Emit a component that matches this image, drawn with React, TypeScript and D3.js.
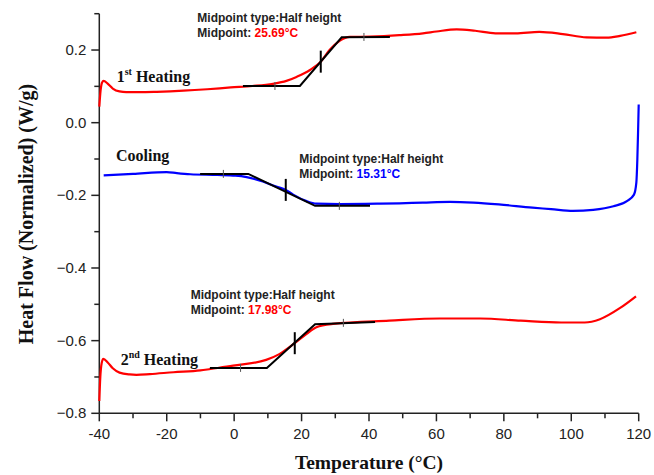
import React from "react";
import * as d3 from "d3";

const WIDTH = 654;
const HEIGHT = 475;

// Axis ticks
const xMajorTicks = [-40, -20, 0, 20, 40, 60, 80, 100, 120];
const xMinorTicks = [-30, -10, 10, 30, 50, 70, 90, 110];
const yMajorTicks = [-0.8, -0.6, -0.4, -0.2, 0.0, 0.2];
const yMinorTicks = [-0.7, -0.5, -0.3, -0.1, 0.1, 0.3];

// DSC curves: [temperature °C, heat flow W/g]
const heating1: [number, number][] = [
  [-40, 0.044], [-39.6, 0.09], [-39.2, 0.11], [-38.7, 0.115], [-37.6, 0.108],
  [-36, 0.094], [-34, 0.086], [-32, 0.084], [-28, 0.084], [-23, 0.085],
  [-15, 0.088], [-8, 0.092], [-1, 0.097], [5.4, 0.101], [11.5, 0.107],
  [15.5, 0.115], [18.5, 0.126], [22.5, 0.145], [25.69, 0.168], [28.3, 0.2],
  [31.4, 0.226], [34.3, 0.236], [40.3, 0.237], [49, 0.241], [56, 0.246],
  [60, 0.251], [66, 0.257], [71.5, 0.253], [77.5, 0.246], [83.5, 0.246],
  [90.5, 0.25], [97.5, 0.244], [104.5, 0.235], [110.5, 0.234], [114.5, 0.239],
  [119.3, 0.249],
];

const cooling: [number, number][] = [
  [-38.7, -0.145], [-30, -0.141], [-20, -0.136], [-17, -0.139], [-13, -0.142],
  [-5, -0.144], [0.4, -0.146], [3.7, -0.15], [8.5, -0.162], [12.5, -0.176],
  [15.31, -0.185], [17.5, -0.198], [21.5, -0.216], [24.4, -0.223], [31.3, -0.224],
  [42.6, -0.223], [49, -0.222], [56, -0.22], [64, -0.218], [71, -0.22],
  [78.5, -0.225], [88.5, -0.234], [94, -0.238], [100.5, -0.243], [106.5, -0.24],
  [112.5, -0.23], [116.5, -0.216], [118.6, -0.198], [119.3, -0.165],
  [119.6, -0.1], [119.8, -0.03], [120, 0.05],
];

const heating2: [number, number][] = [
  [-40, -0.766], [-39.7, -0.7], [-39.3, -0.662], [-38.8, -0.65], [-37.5, -0.66],
  [-36, -0.676], [-34, -0.688], [-31, -0.693], [-29, -0.694], [-25, -0.692],
  [-18, -0.687], [-10, -0.682], [-7, -0.678], [-0.3, -0.669], [9.5, -0.653],
  [13.4, -0.637], [17.98, -0.607], [21.4, -0.582], [24.4, -0.563], [29.3, -0.554],
  [46, -0.545], [61, -0.539], [73, -0.539], [85, -0.545], [97, -0.55],
  [104, -0.55], [108.5, -0.541], [114.5, -0.51], [119.2, -0.478],
];

// Glass-transition construction lines (baseline / tangent / baseline)
const heating1Construction: [number, number][] = [[2.6, 0.101], [19.5, 0.101], [31.9, 0.235], [46.2, 0.236]];
const coolingConstruction: [number, number][] = [[-10.1, -0.141], [4.2, -0.141], [24.0, -0.229], [40.3, -0.229]];
const heating2Construction: [number, number][] = [[-7.2, -0.675], [9.7, -0.675], [24.0, -0.555], [41.8, -0.549]];

// Onset / endset markers on the baselines
const heating1Markers: [number, number][] = [[12.1, 0.101], [38.5, 0.236]];
const coolingMarkers: [number, number][] = [[-3.2, -0.141], [31.2, -0.229]];
const heating2Markers: [number, number][] = [[1.9, -0.675], [32.4, -0.551]];

// Half-height midpoints
const midpoints = [
  { temp: 25.69, flow: 0.168, label: "25.69°C", color: "#ff0000" },
  { temp: 15.31, flow: -0.185, label: "15.31°C", color: "#0000ff" },
  { temp: 17.98, flow: -0.607, label: "17.98°C", color: "#ff0000" },
];

const x = d3.scaleLinear().domain([-40, 120]).range([99.3, 638.7]);
const y = d3.scaleLinear().domain([-0.8, 0.3]).range([413.3, 13.7]);

const curve = d3
  .line<[number, number]>()
  .x((d) => x(d[0]))
  .y((d) => y(d[1]))
  .curve(d3.curveMonotoneX);

const poly = d3
  .line<[number, number]>()
  .x((d) => x(d[0]))
  .y((d) => y(d[1]));

const SANS = "'Liberation Sans', Arial, sans-serif";
const SERIF = "'Liberation Serif', 'Times New Roman', serif";
const AXIS = "#222";

function Annotation({ left, top, value, color }: { left: number; top: number; value: string; color: string }) {
  return (
    <g fontFamily={SANS} fontSize={12} fontWeight="bold" fill="#222">
      <text x={left} y={top}>Midpoint type:Half height</text>
      <text x={left} y={top + 15}>
        Midpoint: <tspan fill={color}>{value}</tspan>
      </text>
    </g>
  );
}

function Construction({ pts, markers, mid }: { pts: [number, number][]; markers: [number, number][]; mid: { temp: number; flow: number } }) {
  return (
    <g>
      <path d={poly(pts) ?? ""} fill="none" stroke="#000" strokeWidth={2} />
      {markers.map(([t, q], i) => (
        <line key={i} x1={x(t)} x2={x(t)} y1={y(q) - 4} y2={y(q) + 4} stroke="#555" strokeWidth={1} />
      ))}
      <line x1={x(mid.temp)} x2={x(mid.temp)} y1={y(mid.flow) - 11} y2={y(mid.flow) + 11} stroke="#000" strokeWidth={2} />
    </g>
  );
}

export default function App() {
  const x0 = x(-40);
  const y0 = y(-0.8);
  return (
    <svg
      width={WIDTH}
      height={HEIGHT}
      viewBox={`0 0 ${WIDTH} ${HEIGHT}`}
      style={{ position: "absolute", left: 0, top: 0, background: "#fff" }}
    >
      {/* axes */}
      <line x1={x0} x2={x0} y1={y(0.3)} y2={y0} stroke={AXIS} strokeWidth={1.5} />
      <line x1={x0} x2={x(120)} y1={y0} y2={y0} stroke={AXIS} strokeWidth={1.5} />
      {yMajorTicks.map((v) => (
        <g key={`ym${v}`}>
          <line x1={x0 - 8} x2={x0} y1={y(v)} y2={y(v)} stroke={AXIS} strokeWidth={1.5} />
          <text x={x0 - 13} y={y(v) + 5} textAnchor="end" fontFamily={SANS} fontSize={15} fill="#222">
            {d3.format(".1f")(v)}
          </text>
        </g>
      ))}
      {yMinorTicks.map((v) => (
        <line key={`yn${v}`} x1={x0 - 5} x2={x0} y1={y(v)} y2={y(v)} stroke={AXIS} strokeWidth={1.5} />
      ))}
      {xMajorTicks.map((v) => (
        <g key={`xm${v}`}>
          <line x1={x(v)} x2={x(v)} y1={y0} y2={y0 + 8} stroke={AXIS} strokeWidth={1.5} />
          <text x={x(v)} y={y0 + 26} textAnchor="middle" fontFamily={SANS} fontSize={15} fill="#222">
            {v}
          </text>
        </g>
      ))}
      {xMinorTicks.map((v) => (
        <line key={`xn${v}`} x1={x(v)} x2={x(v)} y1={y0} y2={y0 + 5} stroke={AXIS} strokeWidth={1.5} />
      ))}

      {/* axis titles */}
      <text
        transform="translate(33,214) rotate(-90)"
        textAnchor="middle"
        fontFamily={SERIF}
        fontWeight="bold"
        fontSize={20}
        fill="#111"
      >
        Heat Flow (Normalized) (W/g)
      </text>
      <text x={369} y={469} textAnchor="middle" fontFamily={SERIF} fontWeight="bold" fontSize={19.5} fill="#111">
        Temperature (°C)
      </text>

      {/* curves */}
      <path d={curve(heating1) ?? ""} fill="none" stroke="#ff0000" strokeWidth={2.2} />
      <path d={curve(cooling) ?? ""} fill="none" stroke="#0000ff" strokeWidth={2.2} />
      <path d={curve(heating2) ?? ""} fill="none" stroke="#ff0000" strokeWidth={2.2} />

      <Construction pts={heating1Construction} markers={heating1Markers} mid={midpoints[0]} />
      <Construction pts={coolingConstruction} markers={coolingMarkers} mid={midpoints[1]} />
      <Construction pts={heating2Construction} markers={heating2Markers} mid={midpoints[2]} />

      {/* curve labels */}
      <g fontFamily={SERIF} fontWeight="bold" fill="#111">
        <text x={116.7} y={81.7} fontSize={16}>
          1<tspan fontSize={10} dy={-7}>st</tspan>
          <tspan dy={7}> Heating</tspan>
        </text>
        <text x={116} y={160.7} fontSize={16}>Cooling</text>
        <text x={120.7} y={365} fontSize={16}>
          2<tspan fontSize={10} dy={-7}>nd</tspan>
          <tspan dy={7}> Heating</tspan>
        </text>
      </g>

      <Annotation left={197.3} top={21.7} value={midpoints[0].label} color={midpoints[0].color} />
      <Annotation left={299.3} top={162.7} value={midpoints[1].label} color={midpoints[1].color} />
      <Annotation left={190.7} top={299.3} value={midpoints[2].label} color={midpoints[2].color} />
    </svg>
  );
}
